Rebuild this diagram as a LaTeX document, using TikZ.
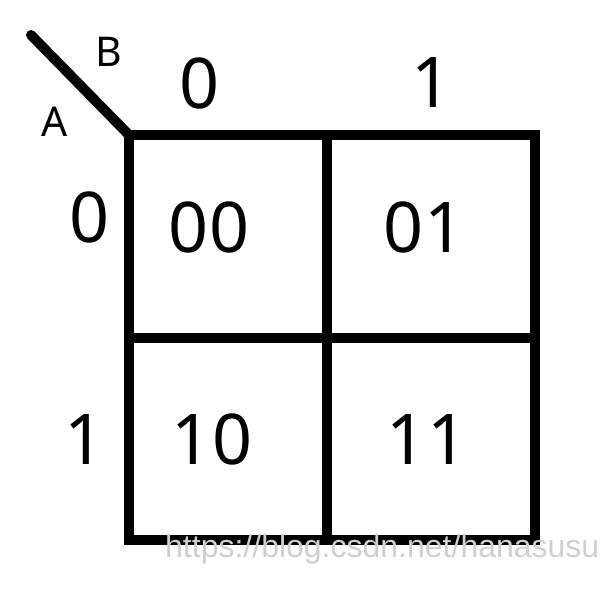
\documentclass[tikz,border=0pt]{standalone}
\usepackage{fontspec}
\setmainfont{Noto Sans}
\newfontfamily\wmfont{Liberation Sans}
\definecolor{wmgray}{HTML}{CFCFCF}
\begin{document}
\begin{tikzpicture}[x=1pt,y=-1pt,
  gridline/.style={line width=10pt},
  bigdigit/.style={font=\fontsize{70}{70}\selectfont, inner sep=0pt, anchor=center},
  varlabel/.style={font=\fontsize{41}{41}\selectfont, inner sep=0pt, anchor=center}]
\useasboundingbox (0,0) rectangle (604,592);
% grid
\coordinate (tl) at (129,135);
\coordinate (tr) at (535,135);
\coordinate (bl) at (129,540);
\coordinate (br) at (535,540);
\coordinate (tm) at (327,135);
\coordinate (bm) at (327,540);
\coordinate (lm) at (129,338);
\coordinate (rm) at (535,338);
\coordinate (diag) at (31,35);
\draw[gridline] (tl) rectangle (br);
\draw[gridline] (tm) -- (bm);
\draw[gridline] (lm) -- (rm);
\draw[gridline, line cap=round] (diag) -- (tl);
% variable labels
\node[varlabel] (B) at (109,52) {B};
\node[varlabel] (A) at (55,122) {A};
% column/row headers
\node[bigdigit] (c0) at (200,83) {0};
\node[bigdigit] (c1) at (432,83) {1};
\node[bigdigit] (r0) at (90,217) {0};
\node[bigdigit] (r1) at (85,439) {1};
% cells
\node[bigdigit] (m00) at (209,227) {00};
\node[bigdigit] (m01) at (424,227) {01};
\node[bigdigit] (m10) at (212,439) {10};
\node[bigdigit] (m11) at (427,439) {11};
% watermark
\node[font=\wmfont\fontsize{32}{32}\selectfont, text=wmgray, inner sep=0pt, anchor=base west] (wm) at (165,557) {https://blog.csdn.net/hanasusu};
\end{tikzpicture}
\end{document}
